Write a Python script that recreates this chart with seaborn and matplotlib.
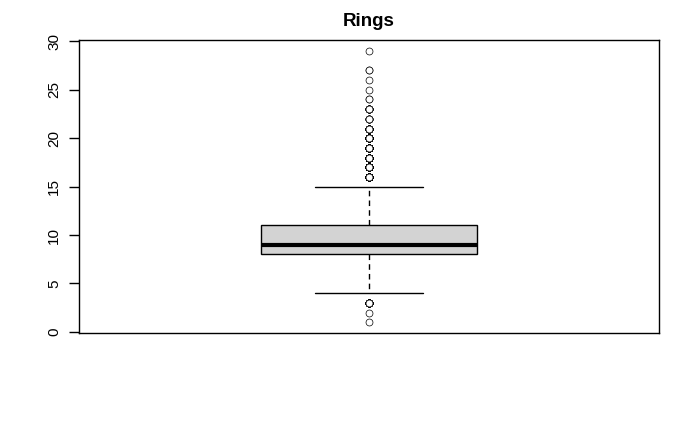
import numpy as np
import pandas as pd
import matplotlib
matplotlib.use("Agg")
import matplotlib.pyplot as plt
import seaborn as sns

# abalone ring counts (value -> number of shells)
ring_values = [1, 2, 3, 4, 5, 6, 7, 8, 9, 10, 11, 12, 13, 14, 15,
               16, 17, 18, 19, 20, 21, 22, 23, 24, 25, 26, 27, 29]
ring_counts = [1, 1, 15, 57, 115, 259, 391, 568, 689, 634, 487, 267, 203, 126, 103,
               67, 58, 42, 32, 26, 14, 6, 9, 2, 1, 1, 2, 1]
y_ticks = [0, 5, 10, 15, 20, 25, 30]

df = pd.DataFrame({"Rings": np.repeat(ring_values, ring_counts)})

sns.set_style("white")
plt.rcParams["font.family"] = ["Liberation Sans", "DejaVu Sans"]
plt.rcParams["text.color"] = "black"

fig = plt.figure(figsize=(7, 4.32), dpi=100)
ax = fig.add_axes([0.113, 0.229, 0.828, 0.678])

sns.boxplot(data=df, y="Rings", ax=ax, width=0.8, whis=1.5,
            color="#d3d3d3", linecolor="black", linewidth=1,
            boxprops=dict(facecolor="#d3d3d3", edgecolor="black", linewidth=1),
            medianprops=dict(color="black", linewidth=3),
            whiskerprops=dict(color="black", linewidth=1, linestyle=(0, (4, 3))),
            capprops=dict(color="black", linewidth=1),
            flierprops=dict(marker="o", markersize=5, markerfacecolor="white",
                            markeredgecolor="black", markeredgewidth=0.5))

ax.set_xlim(-1.075, 1.075)
ax.set_ylim(-0.12, 30.12)
ax.set_yticks(y_ticks)
ax.set_yticklabels([str(t) for t in y_ticks], rotation=90, va="center", fontsize=11)
ax.set_xticks([])
ax.set_xlabel("")
ax.set_ylabel("")
ax.tick_params(axis="y", direction="out", length=7, width=1, left=True, pad=6,
               colors="black", labelcolor="black")
for s in ax.spines.values():
    s.set_visible(True)
    s.set_color("black")
    s.set_linewidth(1)
ax.set_title("Rings", fontsize=13.5, fontweight="bold", pad=10, color="black")

plt.savefig("out.png", dpi=100)
plt.close()
